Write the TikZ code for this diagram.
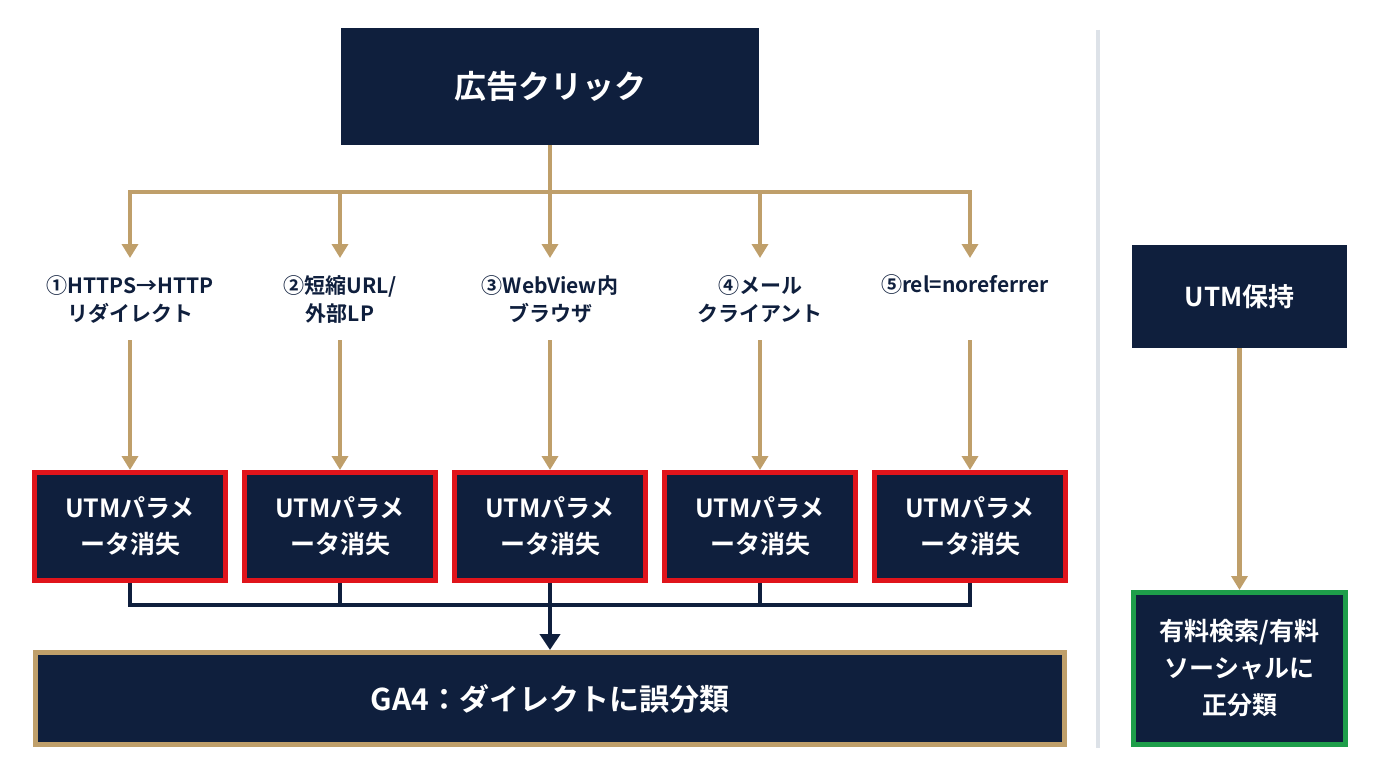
\documentclass[tikz,border=0pt]{standalone}
\usepackage{fontspec}
\setmainfont{Noto Sans CJK JP}[BoldFont={Noto Sans CJK JP Bold}]
\usetikzlibrary{arrows.meta}
\definecolor{navy}{HTML}{0F1F3D}
\definecolor{gold}{HTML}{BF9F6A}
\definecolor{redb}{HTML}{E0141B}
\definecolor{greenb}{HTML}{1E9E4A}
\definecolor{divg}{HTML}{DDE2E8}
\begin{document}
\begin{tikzpicture}[x=1pt,y=-1pt,
  box/.style={fill=navy,text=white,font=\bfseries,align=center,inner sep=0},
  garr/.style={draw=gold,line width=4.5pt,-{Triangle[width=16pt,length=14pt]}},
  gl/.style={draw=gold,line width=4.5pt},
  nl/.style={draw=navy,line width=4pt},
  lab/.style={font=\bfseries\fontsize{21}{28}\selectfont,align=center,text=navy}]
\useasboundingbox (0,0) rectangle (1376,768);
\fill[white] (0,0) rectangle (1376,768);
\node[box,minimum width=418pt,minimum height=117pt,font=\bfseries\fontsize{32}{38}\selectfont] (top) at (550,86.5) {広告クリック};
\draw[divg,line width=4pt] (1098,30) -- (1098,748);
\coordinate (j) at (550,192);
\draw[gl] (top.south) -- (j);
\draw[gl] (128,192) -- (972,192);
\foreach \i/\x in {1/130,2/340,3/550,4/760,5/970}{
  \coordinate (t\i) at (\x,192);
  \coordinate (a\i) at (\x,258);
  \coordinate (b\i) at (\x,340);
  \draw[garr] (t\i) -- (a\i);
  \node[box,draw=redb,line width=5pt,minimum width=191pt,minimum height=108pt,font=\bfseries\fontsize{25}{36}\selectfont] (r\i) at (\x,526.5) {UTMパラメ\\ータ消失};
  \draw[garr] (b\i) -- (r\i.north);
  \coordinate (d\i) at (\x,605);
  \draw[nl] (r\i.south) -- (d\i);
}
\node[lab] (l1) at (130,299) {①HTTPS→HTTP\\リダイレクト};
\node[lab] (l2) at (340,299) {②短縮URL/\\外部LP};
\node[lab] (l3) at (550,299) {③WebView内\\ブラウザ};
\node[lab] (l4) at (760,299) {④メール\\クライアント};
\node[lab] (l5) at (965,285) {⑤rel=noreferrer};
\draw[nl] (128,605) -- (972,605);
\node[box,draw=gold,line width=5pt,minimum width=1029pt,minimum height=92pt,font=\bfseries\fontsize{30}{36}\selectfont] (ga) at (550,698.5) {GA4：ダイレクトに誤分類};
\draw[nl,-{Triangle[width=20pt,length=16pt]}] (d3) -- (ga.north);
\node[box,minimum width=215pt,minimum height=103pt,font=\bfseries\fontsize{26}{32}\selectfont] (utm) at (1239.5,296.5) {UTM保持};
\node[box,draw=greenb,line width=5pt,minimum width=212pt,minimum height=152pt,font=\bfseries\fontsize{25}{37}\selectfont] (gr) at (1239.5,668.5) {有料検索/有料\\ソーシャルに\\正分類};
\draw[garr] (utm.south) -- (gr.north);
\end{tikzpicture}
\end{document}
